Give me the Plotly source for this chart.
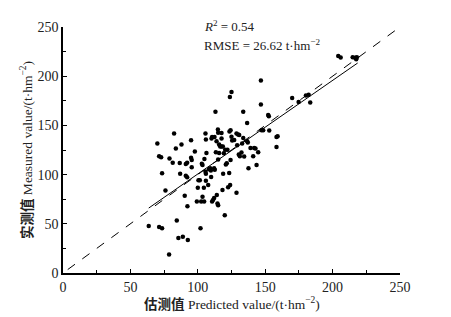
import plotly.graph_objects as go

predicted = [63.6, 70.0, 71.3, 72.8, 71.3, 73.5, 73.5, 76.0, 78.7, 79.0, 81.4, 82.4, 83.7, 84.4,
             85.6, 86.6, 86.9, 87.9, 88.9, 90.3, 91.1, 91.1, 92.1, 92.1, 92.3, 92.6, 95.0, 95.0,
             95.5, 95.5, 97.8, 99.3, 100.0, 100.5, 101.5, 102.0, 102.5, 103.0, 103.5, 103.5, 104.5,
             104.7, 104.9, 105.7, 106.0, 105.7, 106.0, 106.0, 106.4, 107.7, 108.2, 109.2, 109.7,
             109.9, 110.6, 110.6, 111.4, 112.1, 112.1, 112.6, 112.4, 113.1, 113.4, 113.9, 114.1,
             114.6, 115.1, 114.9, 115.1, 115.1, 115.8, 115.8, 116.6, 117.6, 117.6, 118.6, 118.3,
             118.8, 119.3, 120.0, 120.3, 122.0, 120.8, 121.5, 122.5, 123.3, 123.5, 124.3, 123.8,
             124.0, 124.3, 125.0, 125.5, 127.0, 128.7, 129.2, 129.9, 130.7, 130.4, 131.2, 132.4,
             132.9, 133.7, 133.7, 134.4, 136.6, 137.1, 136.6, 137.6, 139.1, 141.1, 141.8, 142.8,
             143.6, 144.8, 146.8, 146.8, 147.3, 148.5, 152.2, 152.7, 153.0, 158.4, 158.4, 159.2,
             170.0, 174.8, 180.2, 182.2, 183.4, 204.2, 206.0, 214.9, 216.8, 218.0, 217.5,
             110.2, 117.6, 125.0, 128.7]
measured = [47.8, 131.6, 118.7, 117.7, 46.8, 45.5, 101.3, 83.8, 18.8, 116.4, 112.1, 141.8, 126.6,
            53.4, 35.6, 111.8, 100.9, 130.6, 36.9, 78.5, 110.8, 98.9, 112.1, 97.3, 67.9, 33.6,
            134.9, 117.0, 114.8, 107.5, 123.4, 72.6, 86.7, 94.3, 94.3, 45.5, 72.6, 111.0, 109.8,
            77.5, 86.7, 72.6, 115.8, 141.8, 135.6, 102.9, 100.9, 93.7, 122.0, 89.4, 105.5, 106.5,
            104.2, 97.6, 72.6, 138.2, 74.5, 76.2, 106.5, 104.9, 138.2, 163.9, 122.7, 133.9, 79.2,
            70.6, 68.9, 145.8, 115.4, 142.5, 122.0, 130.6, 128.6, 142.2, 128.6, 128.6, 84.4,
            100.9, 121.7, 58.7, 125.3, 125.3, 110.2, 111.5, 87.1, 101.6, 143.8, 145.1, 178.8,
            89.4, 114.8, 184.0, 134.6, 135.2, 81.5, 129.9, 140.8, 140.2, 120.4, 118.7, 122.4,
            131.6, 163.9, 137.2, 118.4, 133.9, 132.6, 152.4, 106.5, 127.0, 118.7, 127.0, 126.6,
            109.8, 122.7, 195.6, 171.2, 145.1, 145.1, 160.6, 159.3, 144.8, 128.0, 138.2, 138.9,
            177.8, 173.8, 180.4, 181.1, 173.2, 220.6, 219.0, 219.3, 218.7, 219.3, 217.2,
            136.8, 136.8, 138.5, 141.8]

fit_x = [63.6, 218.6]
fit_y = [66.0, 213.4]
ref_line = [3.5, 250]

serif = "Liberation Serif, Noto Sans CJK SC, serif"

fig = go.Figure()
fig.add_trace(go.Scatter(x=ref_line, y=ref_line, mode="lines",
                         line=dict(color="black", width=1, dash="dash"),
                         showlegend=False, hoverinfo="skip"))
fig.add_trace(go.Scatter(x=fit_x, y=fit_y, mode="lines",
                         line=dict(color="black", width=1),
                         showlegend=False, hoverinfo="skip"))
fig.add_trace(go.Scatter(x=predicted, y=measured, mode="markers",
                         marker=dict(color="black", size=4.5),
                         showlegend=False))

axis_common = dict(range=[0, 250], dtick=50, tick0=0, ticks="inside", ticklen=4,
                   tickwidth=1, tickcolor="black", showline=True, linecolor="black",
                   linewidth=1.5, showgrid=False, zeroline=False,
                   tickfont=dict(family=serif, size=14, color="#222"),
                   minor=dict(dtick=25, tick0=0, ticks="inside", ticklen=3,
                              tickcolor="black", showgrid=False))

# page body has an 8px default margin, so the figure is sized to fit within the window
fig.update_layout(
    width=443, height=309,
    margin=dict(l=55, r=51, t=13, b=44),
    plot_bgcolor="white", paper_bgcolor="white",
    xaxis=dict(**axis_common),
    yaxis=dict(**axis_common),
    font=dict(family=serif, color="#222"),
    annotations=[
        dict(text="<i>R</i><sup>2</sup> = 0.54", xref="paper", yref="paper",
             x=0.413, y=1.0, xanchor="left", yanchor="middle", yshift=1,
             showarrow=False, font=dict(family=serif, size=13, color="#222")),
        dict(text="RMSE = 26.62 t·hm<sup>−2</sup>", xref="paper", yref="paper",
             x=0.413, y=1.0, xanchor="left", yanchor="middle", yshift=-18,
             showarrow=False, font=dict(family=serif, size=13, color="#222")),
        dict(text="<b>估测值</b> Predicted value/(t·hm<sup>−2</sup>)", xref="paper", yref="paper",
             x=0.5, y=0, xanchor="center", yanchor="middle", yshift=-30,
             showarrow=False, font=dict(family=serif, size=13.5, color="#222")),
        dict(text="<b>实测值</b> Measured value/(t·hm<sup>−2</sup>)", xref="paper", yref="paper",
             x=0, y=0.5, xanchor="center", yanchor="middle", xshift=-37, textangle=-90,
             showarrow=False, font=dict(family=serif, size=13.5, color="#222")),
    ],
)

fig.write_html("out.html")
